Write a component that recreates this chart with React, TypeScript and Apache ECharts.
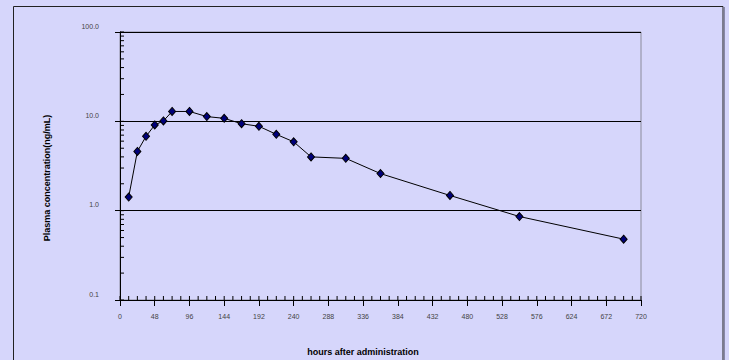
import React, { useEffect, useRef } from "react";
import * as echarts from "echarts";

const hours = [12, 24, 36, 48, 60, 72, 96, 120, 144, 168, 192, 216, 240, 264, 312, 360, 456, 552, 696];
const concentration = [1.42, 4.6, 6.8, 9.1, 10.1, 12.9, 12.9, 11.3, 10.8, 9.4, 8.8, 7.15, 5.9, 4.0, 3.85, 2.6, 1.48, 0.86, 0.48];
const xMinorTicks = [12, 24, 36, 60, 72, 84, 108, 120, 132, 156, 168, 180, 204, 216, 228, 252, 264, 276, 300, 312, 324, 348, 360, 372, 396, 408, 420, 444, 456, 468, 492, 504, 516, 540, 552, 564, 588, 600, 612, 636, 648, 660, 684, 696, 708];
const xMajorTicks = [0, 48, 96, 144, 192, 240, 288, 336, 384, 432, 480, 528, 576, 624, 672, 720];
const yMinorTicks = [0.2, 0.3, 0.4, 0.5, 0.6, 0.7, 0.8, 0.9, 2, 3, 4, 5, 6, 7, 8, 9, 20, 30, 40, 50, 60, 70, 80, 90];
const yMajorTicks = [0.1, 1, 10, 100];

const BG = "#d6d6fb";
const FONT = "Liberation Sans, Arial, sans-serif";

export default function App() {
  const ref = useRef<HTMLDivElement>(null);
  useEffect(() => {
    if (!ref.current) return;
    const chart = echarts.init(ref.current, undefined, { renderer: "svg" });
    const tickSeries = (vals: number[], axis: "x" | "y", len: number) => ({
      type: "custom",
      silent: true,
      clip: false,
      data: vals.map((v) => [v]),
      renderItem: (_p: any, api: any) => {
        const v = api.value(0);
        const pt = axis === "x" ? api.coord([v, 0.1]) : api.coord([0, v]);
        const shape =
          axis === "x"
            ? { x1: pt[0], y1: pt[1], x2: pt[0], y2: pt[1] - len }
            : { x1: pt[0], y1: pt[1], x2: pt[0] + len, y2: pt[1] };
        return { type: "line", shape, style: { stroke: "#000", lineWidth: 1 } };
      },
      z: 5,
    });
    chart.setOption({
      animation: false,
      backgroundColor: BG,
      textStyle: { fontFamily: FONT },
      grid: {
        left: 120,
        right: 88,
        top: 32,
        bottom: 60,
        show: true,
        borderColor: "#8a8a9a",
        borderWidth: 1,
        backgroundColor: "transparent",
      },
      graphic: [
        {
          type: "rect",
          shape: { x: 13.5, y: 6.5, width: 709.5, height: 380 },
          style: { fill: "transparent", stroke: "#222", lineWidth: 1 },
          z: -1,
        },
        {
          type: "line",
          shape: { x1: 724.5, y1: 7, x2: 724.5, y2: 360 },
          style: { stroke: "#8888a8", lineWidth: 1 },
        },
        {
          type: "text",
          x: 363,
          y: 352,
          style: {
            text: "hours after administration",
            fontSize: 9,
            fontWeight: "bold",
            fontFamily: FONT,
            fill: "#000",
            align: "center",
            verticalAlign: "middle",
          },
        },
        {
          type: "text",
          x: 47,
          y: 178,
          rotation: Math.PI / 2,
          style: {
            text: "Plasma concentration(ng/mL)",
            fontSize: 9,
            fontWeight: "bold",
            fontFamily: FONT,
            fill: "#000",
            align: "center",
            verticalAlign: "middle",
          },
        },
      ],
      xAxis: {
        type: "value",
        min: 0,
        max: 720,
        interval: 48,
        axisLine: { show: true, lineStyle: { color: "#000", width: 1 } },
        axisTick: { show: true, inside: false, length: 6, lineStyle: { color: "#000" } },
        splitLine: { show: false },
        axisLabel: { fontSize: 7, color: "#444", margin: 13, fontFamily: FONT },
      },
      yAxis: {
        type: "log",
        logBase: 10,
        min: 0.1,
        max: 100,
        axisLine: { show: true, lineStyle: { color: "#000", width: 1 } },
        axisTick: { show: true, inside: false, length: 5, lineStyle: { color: "#000" } },
        splitLine: { show: true, lineStyle: { color: "#000", width: 1 } },
        axisLabel: {
          fontSize: 7,
          color: "#444",
          margin: 21,
          verticalAlign: "bottom",
          lineHeight: 12,
          fontFamily: FONT,
          formatter: (v: number) => v.toFixed(1),
        },
      },
      series: [
        tickSeries(xMinorTicks, "x", 4),
        tickSeries(xMajorTicks, "x", 4),
        tickSeries(yMinorTicks, "y", 4),
        tickSeries(yMajorTicks, "y", 4),
        {
          type: "line",
          data: hours.map((h, i) => [h, concentration[i]]),
          symbol: "diamond",
          symbolSize: [7, 8],
          lineStyle: { color: "#000", width: 1 },
          itemStyle: { color: "#00007a", borderColor: "#000", borderWidth: 1 },
          z: 10,
        },
      ],
    });
    return () => chart.dispose();
  }, []);
  return <div ref={ref} style={{ width: 729, height: 360, position: "absolute", left: 0, top: 0 }} />;
}
